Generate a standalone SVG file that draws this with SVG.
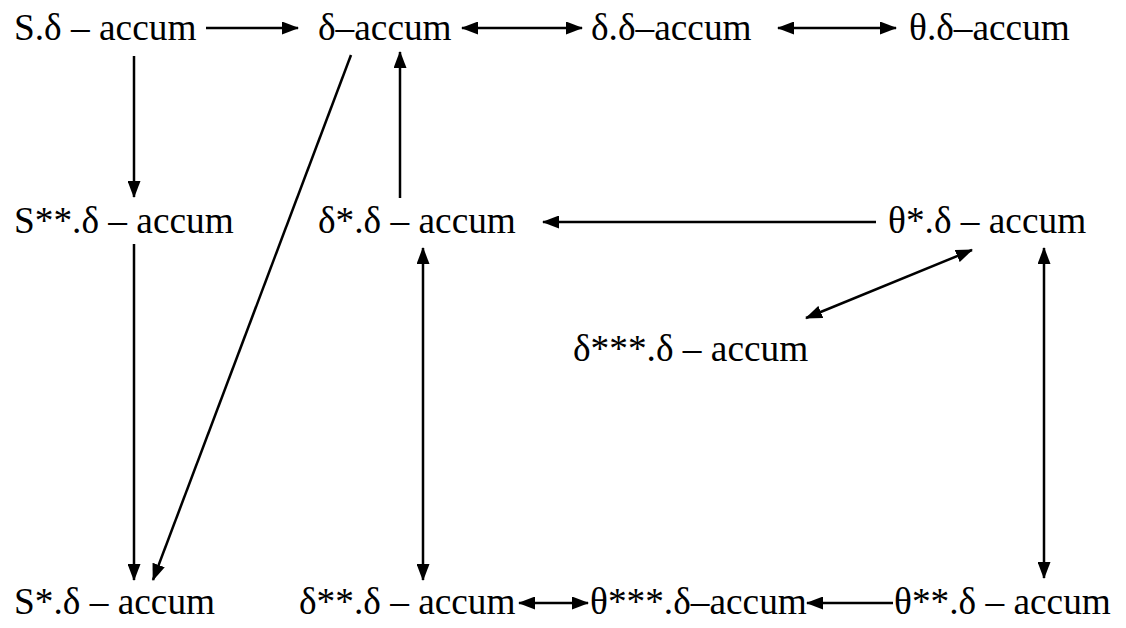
<svg xmlns="http://www.w3.org/2000/svg" width="1126" height="628" viewBox="0 0 1126 628">
<style>
text{font-family:"Liberation Serif","Times New Roman",serif;font-size:37.33px;fill:#000}
.c line{stroke:#000;stroke-width:2.5;fill:none}
</style>
<defs>
<marker id="ah" markerUnits="userSpaceOnUse" markerWidth="17" markerHeight="13" refX="16" refY="6.5" orient="auto-start-reverse" viewBox="0 0 17 13">
<path d="M0,0 L17,6.5 L0,13 z" fill="#000"/>
</marker>
</defs>
<rect width="1126" height="628" fill="#fff"/>
<g id="n-s"><text x="14" y="40">S.δ – accum</text></g>
<g id="n-d"><text x="318" y="40">δ–accum</text></g>
<g id="n-dd"><text x="591" y="40">δ.δ–accum</text></g>
<g id="n-td"><text x="909" y="40">θ.δ–accum</text></g>
<g id="n-s2"><text x="14" y="233">S**.δ – accum</text></g>
<g id="n-d1"><text x="318" y="233">δ*.δ – accum</text></g>
<g id="n-t1"><text x="888" y="233">θ*.δ – accum</text></g>
<g id="n-d3"><text x="573" y="361">δ***.δ – accum</text></g>
<g id="n-s1"><text x="14" y="614">S*.δ – accum</text></g>
<g id="n-d2"><text x="299" y="614">δ**.δ – accum</text></g>
<g id="n-t3"><text x="590" y="614">θ***.δ–accum</text></g>
<g id="n-t2"><text x="894" y="614">θ**.δ – accum</text></g>
<g class="c" id="connectors">
<line x1="206" y1="28" x2="298" y2="28" marker-end="url(#ah)"/>
<line x1="462" y1="28" x2="582" y2="28" marker-start="url(#ah)" marker-end="url(#ah)"/>
<line x1="778" y1="28" x2="896" y2="28" marker-start="url(#ah)" marker-end="url(#ah)"/>
<line x1="134" y1="56" x2="134" y2="197" marker-end="url(#ah)"/>
<line x1="134" y1="244" x2="134" y2="580" marker-end="url(#ah)"/>
<line x1="351" y1="55" x2="153" y2="580" marker-end="url(#ah)"/>
<line x1="400" y1="198" x2="400" y2="52" marker-end="url(#ah)"/>
<line x1="876" y1="222" x2="543" y2="222" marker-end="url(#ah)"/>
<line x1="423" y1="248" x2="423" y2="580" marker-start="url(#ah)" marker-end="url(#ah)"/>
<line x1="972" y1="250" x2="806" y2="318" marker-start="url(#ah)" marker-end="url(#ah)"/>
<line x1="1044" y1="248" x2="1044" y2="578" marker-start="url(#ah)" marker-end="url(#ah)"/>
<line x1="519" y1="603" x2="588" y2="603" marker-start="url(#ah)" marker-end="url(#ah)"/>
<line x1="893" y1="603" x2="807" y2="603" marker-end="url(#ah)"/>
</g>
</svg>
